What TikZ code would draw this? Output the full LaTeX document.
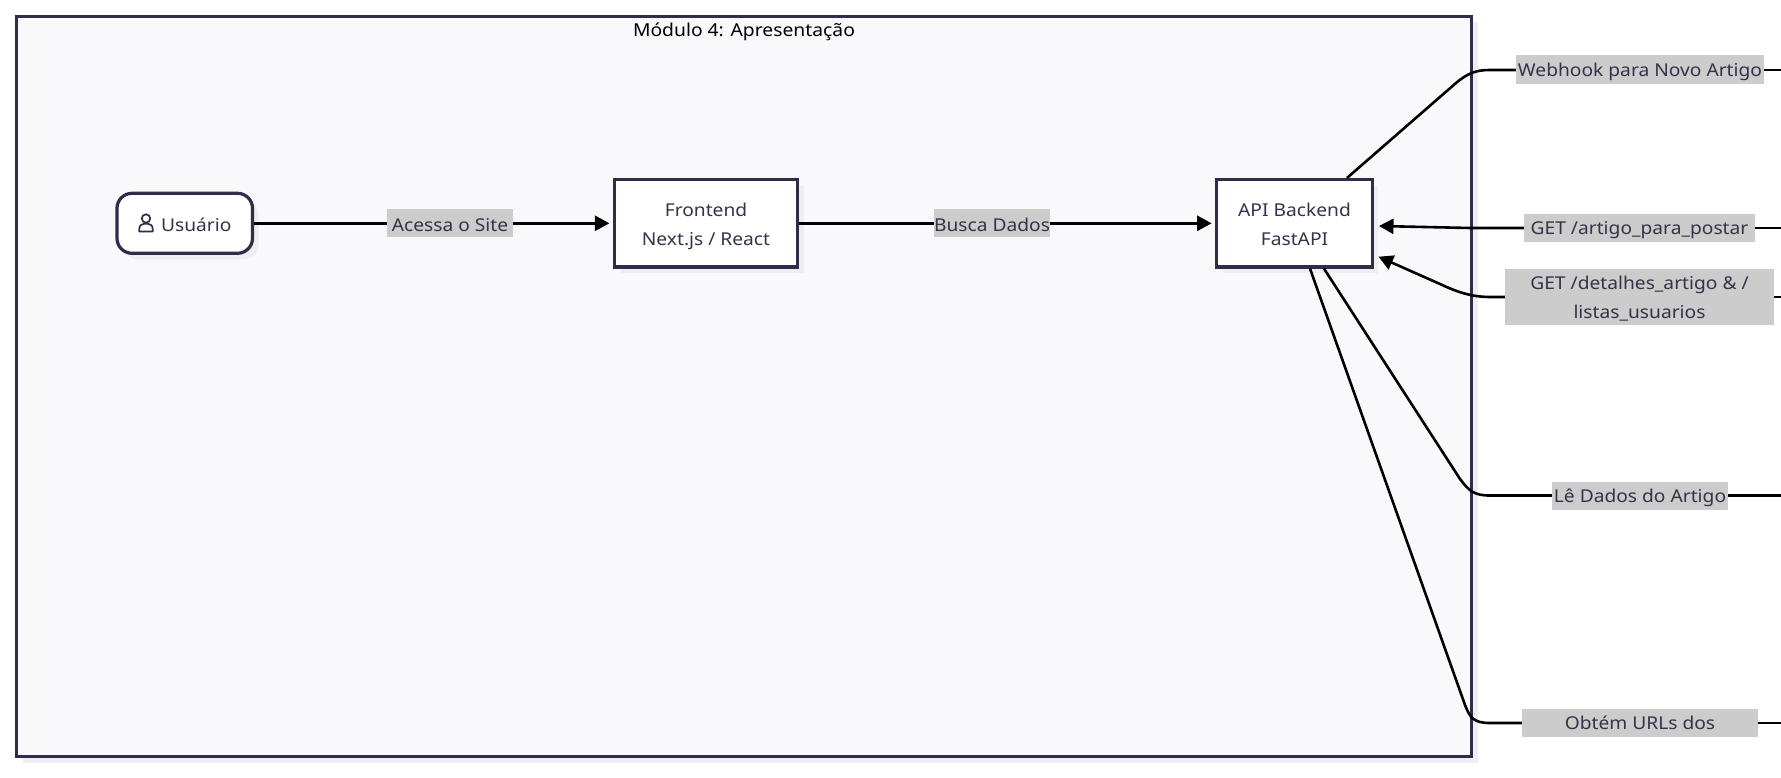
\documentclass[tikz,border=0pt]{standalone}
\usepackage{fontspec}
\setmainfont[FakeStretch=1.085]{Noto Sans}
\newcommand{\lwr}[1]{\raisebox{-6.5pt}[8pt][8pt]{#1}}
\newcommand{\lwrb}[1]{\raisebox{-8pt}[8pt][8pt]{#1}}
\usetikzlibrary{arrows.meta,calc,shadows}
\definecolor{ink}{HTML}{2F2E4A}
\definecolor{txt}{HTML}{333349}
\definecolor{lab}{HTML}{CCCCCC}
\definecolor{sub}{HTML}{F9F9FC}
\definecolor{shad}{HTML}{EEEEF2}
\tikzset{
  soft/.style={drop shadow={shadow xshift=6pt,shadow yshift=-6pt,fill=shad,opacity=1}},
  frame/.style={draw=ink,line width=3.2pt,fill=sub,soft,inner sep=0pt},
  boxnode/.style={draw=ink,line width=3.2pt,fill=white,soft,inner sep=0pt,align=center,text=txt,
    font=\fontsize{17.7}{29}\selectfont},
  edgelab/.style={fill=lab,inner sep=0pt,align=center,text=txt,
    font=\fontsize{17.7}{29}\selectfont},
  link/.style={line width=2.6pt,draw=black,line join=round},
  arrowed/.style={link,-{Triangle[length=14.5pt,width=15pt]}},
}
\begin{document}
\begin{tikzpicture}[x=1pt,y=-1pt]
\fill[white] (0,0) rectangle (1781,778);
\useasboundingbox (0,0) rectangle (1781,778);
\node[frame,minimum width=1455pt,minimum height=740pt] (modulo) at (744,386.5) {};
\node[text=black,inner sep=0pt,font=\fontsize{17.8}{22}\selectfont] (titulo) at (744,30.5) {\lwr{Módulo 4: Apresentação}};

\node[boxnode,rounded corners=15pt,minimum width=135.5pt,minimum height=60pt] (usuario) at (184.75,223.3) {\hspace{23pt}\lwrb{Usuário}};
\node[boxnode,minimum width=183pt,minimum height=87.5pt] (frontend) at (706,223.3) {\lwrb{Frontend}\\\lwrb{Next.js / React}};
\node[boxnode,minimum width=155.5pt,minimum height=87.5pt] (api) at (1294.5,223.3) {\lwrb{API Backend}\\\lwrb{FastAPI}};

\begin{scope}[shift={(usuario.center)},draw=ink,line width=1.7pt]
  \draw (-38.75,-4.8) circle (4.2pt);
  \draw[line join=round] (-45.5,8.2) -- (-45.5,6) .. controls (-45.5,2) and (-43,0.6) .. (-41,0.6)
    -- (-36.5,0.6) .. controls (-34.5,0.6) and (-32,2) .. (-32,6) -- (-32,8.2) -- cycle;
\end{scope}

\node[edgelab,minimum width=126pt,minimum height=28pt] (l1) at (450,223.3) {\lwrb{Acessa o Site}};
\node[edgelab,minimum width=115pt,minimum height=28pt] (l2) at (992,223.3) {\lwrb{Busca Dados}};
\node[edgelab,minimum width=248pt,minimum height=29pt] (l3) at (1640,70) {\lwr{Webhook para Novo Artigo}};
\node[edgelab,minimum width=231pt,minimum height=28pt] (l4) at (1639.5,228) {\lwr{GET /artigo\_para\_postar}};
\node[edgelab,minimum width=269pt,minimum height=56pt] (l5) at (1639.5,297) {\lwr{GET /detalhes\_artigo \& /}\\\lwr{listas\_usuarios}};
\node[edgelab,minimum width=176pt,minimum height=28pt] (l6) at (1640,495.5) {\lwr{Lê Dados do Artigo}};
\node[edgelab,minimum width=236pt,minimum height=28pt] (l7) at (1640,723) {\lwr{Obtém URLs dos}};

\coordinate (e3) at (1781,70);
\coordinate (e4) at (1781,228);
\coordinate (e5) at (1781,297);
\coordinate (e6) at (1781,495.5);
\coordinate (e7) at (1781,723);

\draw[link] (usuario.east) -- (l1.west);
\draw[arrowed,shorten >=3.5pt] (l1.east) -- (frontend.west);
\draw[link] (frontend.east) -- (l2.west);
\draw[arrowed,shorten >=3.5pt] (l2.east) -- (api.west);

\draw[link] ($(api.north)+(52.5,0)$) -- (1456,83) .. controls (1468,73) and (1476,70) .. (1490,70) -- (l3.west);
\draw[link] (l3.east) -- (e3);

\draw[link] (e4) -- (l4.east);
\draw[arrowed] (l4.west) -- (1470,228) -- (1379,226);

\draw[link] (e5) -- (l5.east);
\draw[arrowed] (l5.west) -- (1490,297) .. controls (1470,297) and (1455,291) .. (1440,284) -- (1378.5,256.7);

\draw[link] ($(api.south)+(29.5,0)$) -- (1460,479) .. controls (1469,491) and (1474,495.5) .. (1490,495.5) -- (l6.west);
\draw[link] (l6.east) -- (e6);

\draw[link] ($(api.south)+(15.5,0)$) -- (1465,705) .. controls (1470,718) and (1474,723) .. (1490,723) -- (l7.west);
\draw[link] (l7.east) -- (e7);
\end{tikzpicture}
\end{document}
